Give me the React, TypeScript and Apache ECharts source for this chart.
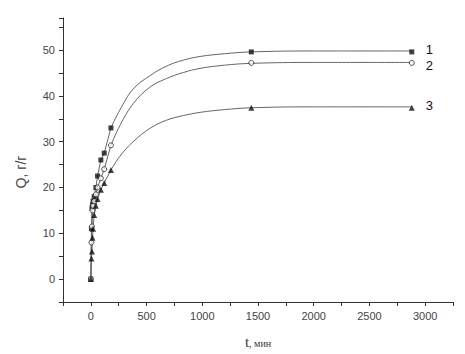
import React, { useEffect, useRef } from "react";
import * as echarts from "echarts";

// Measured times (min)
const times = [0, 5, 10, 15, 20, 30, 45, 60, 90, 120, 180, 1440, 2880];
// Measured Q (г/г) for samples 1, 2, 3
const q1 = [0, 11, 15.5, 16.2, 17, 18, 20, 22.5, 26, 27.5, 33, 49.6, 49.6];
const q2 = [0, 8, 11.5, 15, 16, 17, 18.5, 20, 22, 24, 29.2, 47.2, 47.2];
const q3 = [0, 4.5, 6, 9, 11, 14, 16, 17.5, 19.5, 21, 23.8, 37.4, 37.4];

// Fitted curve points (t >= 180)
const fitTimes = [180, 260, 380, 530, 680, 830, 980, 1200, 1440, 2000, 2880];
const fit1 = [33, 36.9, 41.5, 44.4, 46.5, 47.8, 48.6, 49.2, 49.6, 49.8, 49.8];
const fit2 = [29.2, 33.5, 38.3, 41.9, 43.8, 45.1, 46.0, 46.7, 47.1, 47.3, 47.3];
const fit3 = [23.8, 26.8, 30.0, 32.9, 34.7, 35.7, 36.4, 37.0, 37.4, 37.6, 37.6];

const seriesNames = ["1", "2", "3"];

export default function App() {
  const ref = useRef<HTMLDivElement>(null);
  useEffect(() => {
    if (!ref.current) return;
    const chart = echarts.init(ref.current, undefined, { renderer: "svg" });
    const measured = [q1, q2, q3];
    const fits = [fit1, fit2, fit3];
    const symbols = ["rect", "circle", "triangle"];
    const symbolSizes = [5, 5, 6];
    const labelOffsets = [[0, -1], [0, 3], [0, -1]];
    const series: any[] = [];
    measured.forEach((q, i) => {
      // early part: straight segments between measured points
      series.push({
        type: "line",
        data: times.filter((t) => t <= 180).map((t, k) => [t, q[k]]),
        showSymbol: false,
        symbol: "none",
        lineStyle: { color: "#666", width: 1 },
        silent: true,
        z: 2,
      });
      // fitted curve
      series.push({
        type: "line",
        data: fitTimes.map((t, k) => [t, fits[i][k]]),
        showSymbol: false,
        symbol: "none",
        smooth: 0.4,
        lineStyle: { color: "#666", width: 1 },
        endLabel: {
          show: true,
          formatter: seriesNames[i],
          color: "#111",
          fontSize: 13,
          fontFamily: "Arial, Liberation Sans, sans-serif",
          distance: 14,
          offset: labelOffsets[i],
        },
        silent: true,
        z: 2,
      });
      series.push({
        type: "scatter",
        data: times.map((t, k) => [t, q[k]]),
        symbol: symbols[i],
        symbolSize: symbolSizes[i],
        itemStyle:
          i === 1
            ? { color: "#fff", borderColor: "#222", borderWidth: 1 }
            : { color: "#111" },
        z: 3,
      });
    });
    chart.setOption({
      animation: false,
      backgroundColor: "#fff",
      grid: { left: 63, right: 12, top: 18, bottom: 48 },
      xAxis: {
        type: "value",
        min: -250,
        max: 3250,
        interval: 250,
        name: "{t|t}{u|, мин}",
        nameLocation: "middle",
        nameGap: 32,
        nameTextStyle: {
          rich: {
            t: { fontFamily: "Liberation Serif, serif", fontSize: 15, color: "#333" },
            u: { fontFamily: "Liberation Serif, serif", fontSize: 10, color: "#333", padding: [3, 0, 0, 0] },
          },
        },
        axisLine: { onZero: false, lineStyle: { color: "#333", width: 1 } },
        axisTick: { show: true, length: 4, lineStyle: { color: "#333" } },
        axisLabel: {
          color: "#444",
          fontSize: 11,
          fontFamily: "Arial, Liberation Sans, sans-serif",
          margin: 8,
          formatter: (v: number) => (v % 500 === 0 ? String(v) : ""),
        },
        splitLine: { show: false },
      },
      yAxis: {
        type: "value",
        min: -5,
        max: 57,
        interval: 5,
        name: "Q, г/г",
        nameLocation: "middle",
        nameGap: 35,
        nameTextStyle: {
          color: "#444",
          fontSize: 14,
          fontFamily: "Arial, Liberation Sans, sans-serif",
          padding: [0, 24, 0, 0],
        },
        axisLine: { onZero: false, lineStyle: { color: "#333", width: 1 } },
        axisTick: { show: true, length: 4, lineStyle: { color: "#333" } },
        axisLabel: {
          color: "#444",
          fontSize: 11,
          fontFamily: "Arial, Liberation Sans, sans-serif",
          margin: 8,
          formatter: (v: number) => (v % 10 === 0 ? String(v) : ""),
        },
        splitLine: { show: false },
      },
      series,
    });
    return () => chart.dispose();
  }, []);
  return <div ref={ref} style={{ width: 465, height: 354, position: "absolute", left: 0, top: 0 }} />;
}
